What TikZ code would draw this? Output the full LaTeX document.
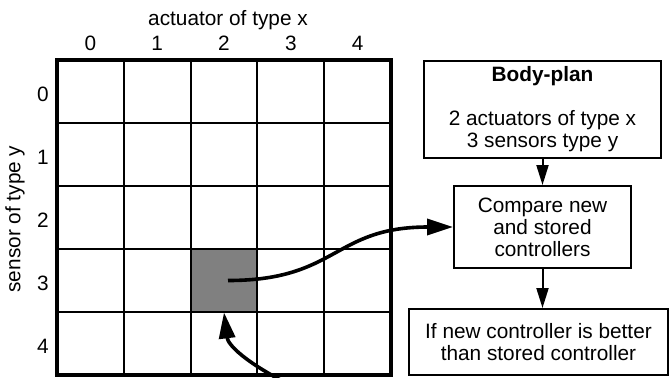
\documentclass[tikz,border=0pt]{standalone}
\usepackage{fontspec}
\setmainfont{Liberation Sans}
\usetikzlibrary{arrows.meta}
\definecolor{cellgray}{HTML}{808080}

\begin{document}
\begin{tikzpicture}[x=0.5pt, y=-0.5pt,
    every node/.style={font=\fontsize{10.4}{11}\selectfont},
    box/.style={draw, line width=1pt, align=center, inner sep=0pt},
    flow/.style={-{Triangle[length=10pt,width=6pt]}, line width=1pt},
    curvy/.style={-{Triangle[length=13pt,width=8pt]}, line width=1.8pt}]
  \clip (0,0) rectangle (669,377);
  % matrix of actuator/sensor pairs
  \begin{scope}[shift={(57,60)}, x=33.4pt, y=-31.5pt]
    \node[fill=cellgray, minimum width=33.4pt, minimum height=31.5pt,
          inner sep=0pt] (cell) at (2.5,3.5) {};
    \foreach \i in {1,...,4}{
      \draw[line width=1pt] (\i,0) -- (\i,5);
      \draw[line width=1pt] (0,\i) -- (5,\i);}
    \draw[line width=2pt] (0,0) rectangle (5,5);
    \foreach \i in {0,...,4}{
      \node (col\i) at (\i+0.5,-0.27) {\i};
      \node (row\i) at (-0.21,\i+0.55) {\i};}
  \end{scope}
  \node (xlabel) at (228,20) {actuator of type x};
  \node[rotate=90] (ylabel) at (15,219) {sensor of type y};
  % flow chart
  \node[box, minimum width=118.5pt, minimum height=48.5pt] (body) at (542.5,109.5)
    {\textbf{Body-plan}\\ \\ 2 actuators of type x\\3 sensors type y};
  \node[box, minimum width=88.5pt, minimum height=41pt] (compare) at (542.5,227)
    {Compare new\\and stored\\controllers};
  \node[box, minimum width=129.5pt, minimum height=33pt] (better) at (538.5,342)
    {If new controller is better\\than stored controller};
  \draw[flow] (body.south) -- (compare.north);
  \draw[flow] (compare.south) -- (compare.south |- better.north);
  % arrows in and out of the chosen cell
  \coordinate (pick) at ([xshift=2pt]cell.center);
  \coordinate (back) at (290,385);
  \draw[curvy] (pick) .. controls +(55pt,0) and +(-60pt,0) .. (compare.west);
  \draw[curvy] (back) .. controls (245,362) and (228,345) .. (cell.south);
\end{tikzpicture}
\end{document}
